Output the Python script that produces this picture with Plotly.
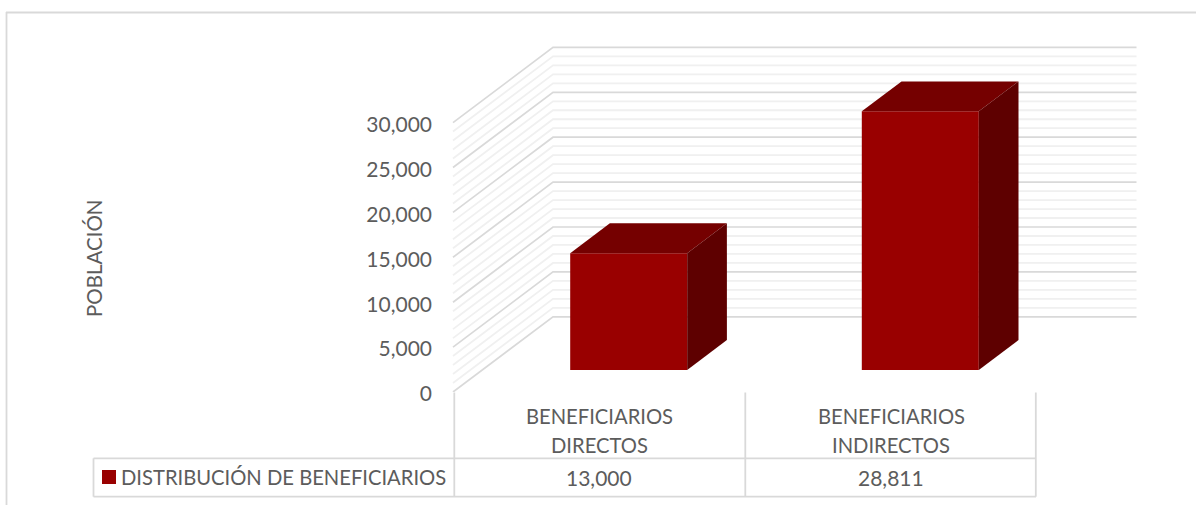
import plotly.graph_objects as go

# ---------- data ----------
categories = ["BENEFICIARIOS DIRECTOS", "BENEFICIARIOS INDIRECTOS"]
cat_line1 = ["BENEFICIARIOS", "BENEFICIARIOS"]
cat_line2 = ["DIRECTOS", "INDIRECTOS"]
values = [13000, 28811]
value_labels = ["13,000", "28,811"]
tick_values = [0, 5000, 10000, 15000, 20000, 25000, 30000]
tick_labels = ["0", "5,000", "10,000", "15,000", "20,000", "25,000", "30,000"]
series_name = "DISTRIBUCIÓN DE BENEFICIARIOS"
axis_title = "POBLACIÓN"

# ---------- geometry of the chart ----------
W, H = 1196, 505
PX_PER_CAT = 291.6
CAT0_PX = 599.4
PX_PER_VAL = 44.9 / 5000
ZERO_PY = 392.0
LEFT_PX, RIGHT_PX = 433.0, 1140.0

DEPTH_X = 100.0 / PX_PER_CAT           # full depth of the box, x units
DEPTH_Y = 75.2 / PX_PER_VAL            # full depth of the box, value units
GRID_X0 = (453.0 - CAT0_PX) / PX_PER_CAT
GRID_X1 = (1136.5 - CAT0_PX) / PX_PER_CAT
BAR_W = 117.0 / PX_PER_CAT
BAR_D0, BAR_D1 = 0.293, 0.69

FONT = "Lato"
TXT = "#5c5c5c"
LINE = "#d9d9d9"
C_FRONT, C_TOP, C_SIDE = "#990000", "#750000", "#5e0000"


def project(x, d, v):
    return x + d * DEPTH_X, v + d * DEPTH_Y


def px(p):
    return (p - LEFT_PX) / (RIGHT_PX - LEFT_PX)


def py(p):
    return (ZERO_PY - p) / ZERO_PY


def gridline(v):
    pts = [project(GRID_X0, 0, v), project(GRID_X0, 1, v), project(GRID_X1 - DEPTH_X, 1, v)]
    return [p[0] for p in pts] + [None], [p[1] for p in pts] + [None]


def poly(points):
    pts = [project(*p) for p in points]
    pts.append(pts[0])
    return [p[0] for p in pts], [p[1] for p in pts]


fig = go.Figure()

# back wall and side wall gridlines
for step_set, colour, width in (
    ([v for v in range(0, 30001, 1000) if v % 5000], "#f0f0f0", 1.8),
    (tick_values, "#d9d9d9", 1.7),
):
    gx, gy = [], []
    for v in step_set:
        a, b = gridline(v)
        gx += a
        gy += b
    fig.add_trace(go.Scatter(x=gx, y=gy, mode="lines", line=dict(color=colour, width=width),
                             hoverinfo="skip", showlegend=False, cliponaxis=False))

# bars, on an overlaid pair of axes so that they cover the gridlines
cat_pos = list(range(len(categories)))
fig.add_trace(go.Bar(
    x=[project(c, BAR_D0, 0)[0] for c in cat_pos],
    y=values,
    base=[project(c, BAR_D0, 0)[1] for c in cat_pos],
    width=BAR_W, marker=dict(color=C_FRONT, line=dict(width=0)),
    name=series_name, showlegend=False, xaxis="x2", yaxis="y2",
    customdata=categories, hovertemplate="%{customdata}: %{y:,}<extra></extra>",
))
for c, v in zip(cat_pos, values):
    xl, xr = c - BAR_W / 2, c + BAR_W / 2
    tx, ty = poly([(xl, BAR_D0, v), (xr, BAR_D0, v), (xr, BAR_D1, v), (xl, BAR_D1, v)])
    sx, sy = poly([(xr, BAR_D0, 0), (xr, BAR_D1, 0), (xr, BAR_D1, v), (xr, BAR_D0, v)])
    for fx, fy, col in ((tx, ty, C_TOP), (sx, sy, C_SIDE)):
        fig.add_trace(go.Scatter(x=fx, y=fy, mode="lines", fill="toself", fillcolor=col,
                                 line=dict(width=0, color=col), hoverinfo="skip",
                                 showlegend=False, xaxis="x2", yaxis="y2"))

x_range = [(LEFT_PX - CAT0_PX) / PX_PER_CAT, (RIGHT_PX - CAT0_PX) / PX_PER_CAT]
y_range = [0, ZERO_PY / PX_PER_VAL]

# table and frame
shapes = []


def hline(p, a, b):
    shapes.append(dict(type="line", xref="paper", yref="paper", x0=px(a), x1=px(b), y0=py(p), y1=py(p),
                       line=dict(color=LINE, width=1.8), layer="above"))


def vline(p, a, b):
    shapes.append(dict(type="line", xref="paper", yref="paper", x0=px(p), x1=px(p), y0=py(a), y1=py(b),
                       line=dict(color=LINE, width=1.8), layer="above"))


hline(12.5, 6, W)
vline(6.5, 12, H)
hline(458.3, 93.5, 1036)
hline(496.7, 93.5, 1036)
vline(93.5, 458.3, 496.7)
for p in (454.3, 745.3, 1035.8):
    vline(p, 392.5, 496.7)
shapes.append(dict(type="rect", xref="paper", yref="paper", x0=px(102), x1=px(116), y0=py(470), y1=py(484),
                   fillcolor=C_FRONT, line=dict(width=0)))

annotations = []


def label(text, x, p, size=20, xref="x", xanchor="center", angle=0):
    annotations.append(dict(text=text, x=x, y=py(p), xref=xref, yref="paper", xanchor=xanchor, yanchor="middle",
                            showarrow=False, textangle=angle, font=dict(family=FONT, size=size, color=TXT)))


for c, a, b, v in zip(cat_pos, cat_line1, cat_line2, value_labels):
    label(a, c, 416, 20.2)
    label(b, c, 445, 20.2)
    label(v, c, 477.5, 21)
label(series_name, px(119), 477, 20.2, xref="paper", xanchor="left")
label(axis_title, px(94), 258, 20.5, xref="paper", angle=-90)

fig.update_layout(
    width=W, height=H, autosize=False,
    margin=dict(l=LEFT_PX, r=W - RIGHT_PX, t=0, b=H - ZERO_PY, pad=0),
    paper_bgcolor="white", plot_bgcolor="white", showlegend=False, barmode="overlay",
    font=dict(family=FONT, color=TXT),
    shapes=shapes, annotations=annotations,
    xaxis=dict(range=x_range, visible=False, fixedrange=True),
    yaxis=dict(range=y_range, tickmode="array", tickvals=tick_values, ticktext=tick_labels,
               showgrid=False, zeroline=False, showline=False, ticks="", ticklen=0, fixedrange=True,
               ticklabelshift=2,
               tickfont=dict(family=FONT, size=21, color=TXT), automargin=False),
    xaxis2=dict(range=x_range, visible=False, overlaying="x", fixedrange=True),
    yaxis2=dict(range=y_range, visible=False, overlaying="y", fixedrange=True),
)

fig.write_html("out.html", config=dict(displayModeBar=False),
               post_script="document.body.style.margin='0';document.documentElement.style.overflow='hidden';")
